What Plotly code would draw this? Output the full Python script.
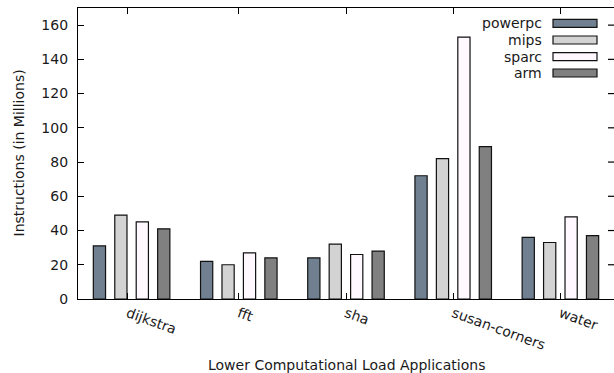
import plotly.graph_objects as go

# Benchmark applications and per-architecture instruction counts (millions)
categories = ["dijkstra", "fft", "sha", "susan-corners", "water"]
powerpc = [31, 22, 24, 72, 36]
mips = [49, 20, 32, 82, 33]
sparc = [45, 27, 26, 153, 48]
arm = [41, 24, 28, 89, 37]

series_names = ["powerpc", "mips", "sparc", "arm"]
series_values = [powerpc, mips, sparc, arm]
y_ticks = [0, 20, 40, 60, 80, 100, 120, 140, 160]

# styling
fills = ["#708090", "#d3d3d3", "#fff8ff", "#808080"]
outline = "#111111"
bar_width = 0.114
bar_offsets = [-0.357, -0.157, 0.043, 0.243]
tick_pos = [-0.036, 1, 2, 3, 4]
FONT = "DejaVu Sans"
TXT = "#1a1a1a"

W, H = 614, 373
L, R, T, B = 78, 0, 8, 74
PW, PH = W - L - R, H - T - B
TICK = 6


def px(x):
    return (x - L) / PW


def py(y):
    return (H - B - y) / PH


fig = go.Figure()
idx = list(range(len(categories)))
for name, vals, col, off in zip(series_names, series_values, fills, bar_offsets):
    fig.add_trace(go.Bar(
        name=name, x=idx, y=vals, width=bar_width, offset=off,
        marker=dict(color=col, line=dict(color=outline, width=1.2)),
        showlegend=False,
    ))

# inward tick marks along the right-hand border, at the y tick values
for v in y_ticks[1:]:
    fig.add_shape(type="line", xref="paper", yref="y",
                  x0=1 - TICK / PW, x1=1.0, y0=v, y1=v,
                  line=dict(color="black", width=1.2))

# key: right-aligned labels followed by filled sample boxes
key_rows = [23.3, 40.0, 56.7, 73.0]
for name, col, yc in zip(series_names, fills, key_rows):
    fig.add_shape(type="rect", xref="paper", yref="paper",
                  x0=px(553), x1=px(597), y0=py(yc + 4), y1=py(yc - 4),
                  fillcolor=col, line=dict(color=outline, width=1.2))
    fig.add_annotation(xref="paper", yref="paper", x=px(544), y=py(yc),
                       text=name, showarrow=False, xanchor="right",
                       yanchor="middle", font=dict(family=FONT, size=14, color=TXT))

# axis titles
fig.add_annotation(xref="paper", yref="paper", x=px(18), y=py(153.5),
                   text="Instructions (in Millions)", textangle=-90,
                   showarrow=False, xanchor="center", yanchor="middle",
                   font=dict(family=FONT, size=14, color=TXT))
fig.add_annotation(xref="paper", yref="paper", x=px(346.5), y=py(364.5),
                   text="Lower Computational Load Applications",
                   showarrow=False, xanchor="center", yanchor="middle",
                   font=dict(family=FONT, size=14, color=TXT))

fig.update_layout(
    width=W, height=H,
    margin=dict(l=L, r=R, t=T, b=B, pad=0),
    paper_bgcolor="white", plot_bgcolor="white",
    barmode="overlay",
    font=dict(family=FONT, size=14, color=TXT),
    xaxis=dict(
        range=[-0.5, 4.5], tickvals=tick_pos, ticktext=categories,
        showline=True, linecolor="black", linewidth=1.2, mirror="ticks",
        ticks="inside", ticklen=TICK, tickcolor="black", tickwidth=1,
        tickangle=20, showgrid=False, zeroline=False,
        tickfont=dict(family=FONT, size=14, color=TXT),
    ),
    yaxis=dict(
        range=[0, 170], tickvals=y_ticks,
        showline=True, linecolor="black", linewidth=1.2, mirror=True,
        ticks="inside", ticklen=TICK, tickcolor="black", tickwidth=1,
        showgrid=False, zeroline=False, ticklabelstandoff=6,
        tickfont=dict(family=FONT, size=14, color=TXT),
    ),
)

fig.write_html("out.html")
